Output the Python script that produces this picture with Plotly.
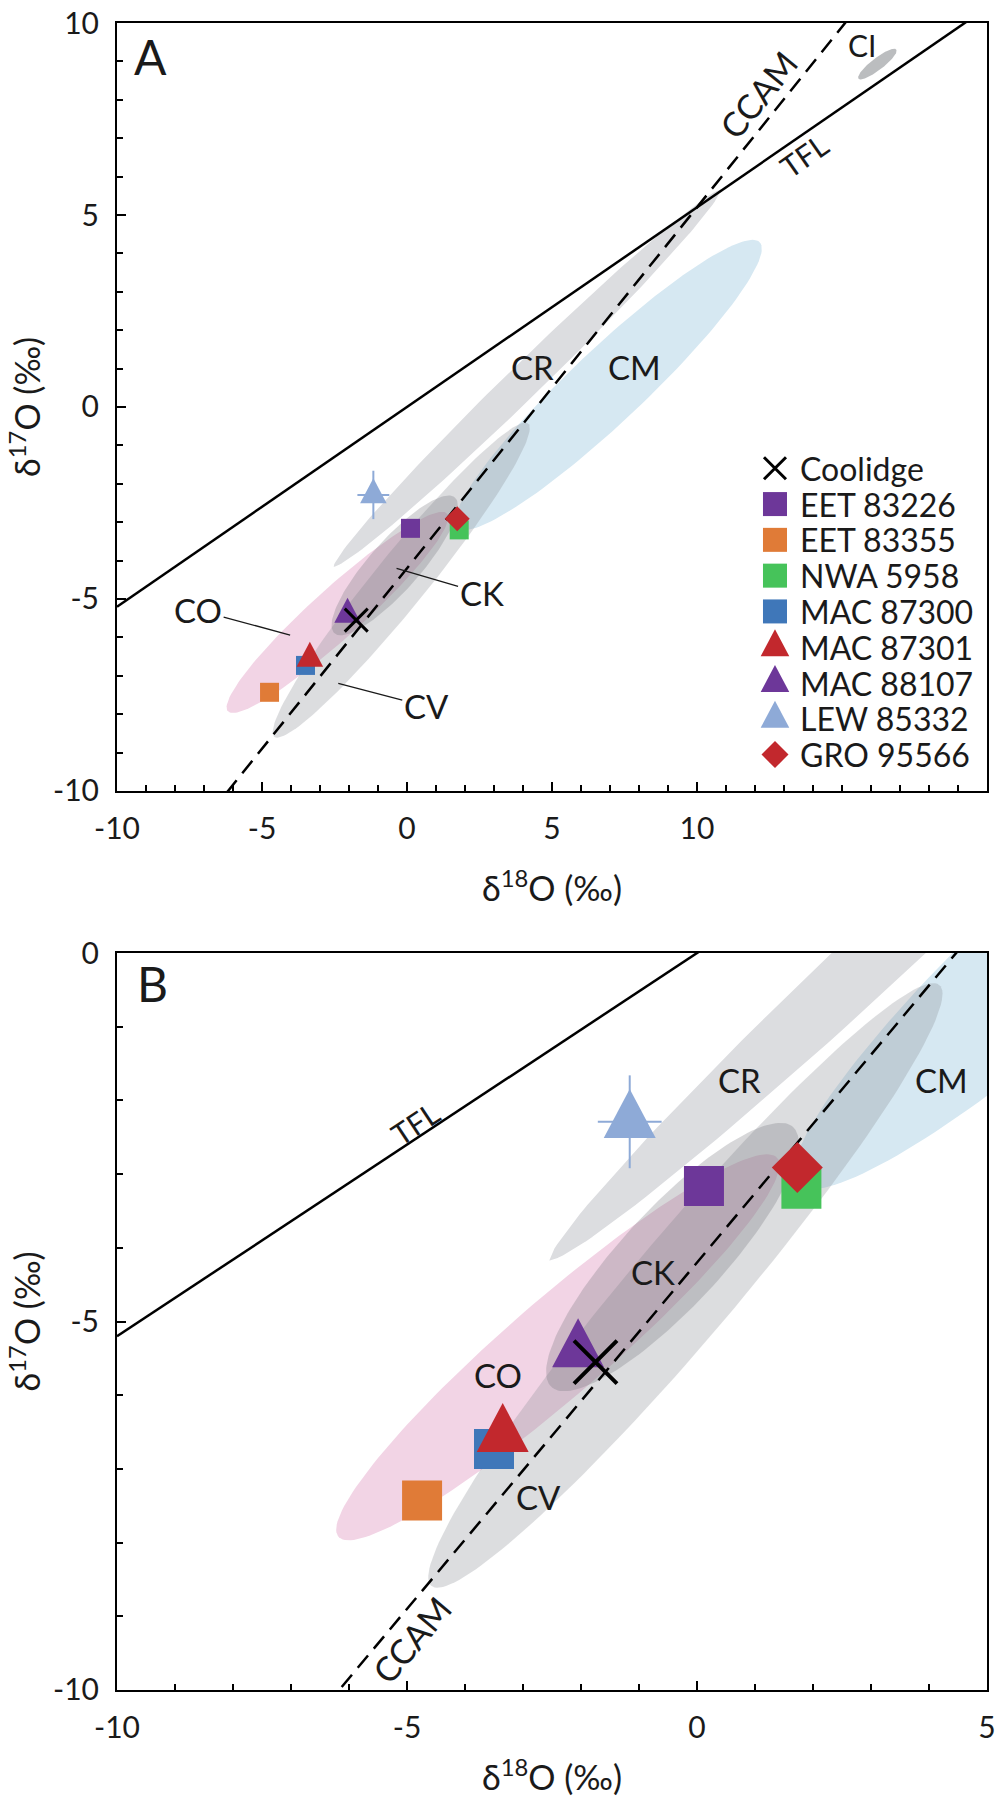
import numpy as np
import plotly.graph_objects as go

# meteorite samples, delta values in permil
samples = ['EET 83226', 'EET 83355', 'NWA 5958', 'MAC 87300',
           'MAC 87301', 'MAC 88107', 'LEW 85332', 'GRO 95566']
d18o = [0.12, -4.74, 1.80, -3.50, -3.35, -2.05, -1.16, 1.73]
d17o = [-3.16, -7.43, -3.20, -6.73, -6.55, -5.40, -2.29, -2.91]
err18 = [0, 0, 0, 0, 0, 0, 0.55, 0]
err17 = [0, 0, 0, 0, 0, 0, 0.63, 0]
kinds = ['square', 'square', 'square', 'square',
         'triangle', 'triangle', 'triangle', 'diamond']
colors = ['#6d3799', '#e07b37', '#46c35a', '#3f77b9',
          '#c2282d', '#6d3799', '#8eaad7', '#c2282d']

coolidge_18 = -1.75
coolidge_17 = -5.55

# reference lines: d17O = slope * d18O + intercept
ref_lines = ['TFL', 'CCAM']
ref_slope = [0.52, 0.94]
ref_icpt = [0.0, -4.2]

# chondrite group fields: ends of the long axis + half width
fields = ['CO', 'CM', 'CV', 'CK', 'CR', 'CI']
f_x0 = [-6.2, 1.7, -4.6, -2.55, -2.6, 15.56]
f_y0 = [-7.9, -3.1, -8.57, -5.85, -4.2, 8.56]
f_x1 = [1.4, 12.2, 4.2, 1.7, 10.9, 16.88]
f_y1 = [-2.8, 4.25, -0.45, -2.4, 5.7, 9.3]
f_hw = [0.72, 1.07, 0.8, 0.75, 0.55, 0.17]

# axis ticks
xticks_a = [-10, -5, 0, 5, 10]
yticks_a = [-10, -5, 0, 5, 10]
xticks_b = [-10, -5, 0, 5]
yticks_b = [-10, -5, 0]

FONT = "Lato, 'Noto Sans', sans-serif"
INK = '#1a1a1a'

field_fill = {'CO': '#f2d4e5', 'CM': '#d6e8f2', 'CV': 'rgba(140,143,148,0.30)',
              'CK': 'rgba(110,112,118,0.28)', 'CR': '#dcdde0', 'CI': '#bbbdbf'}


def ellipse(x0, y0, x1, y1, hw, n=160):
    cx, cy = (x0 + x1) / 2, (y0 + y1) / 2
    ux, uy = (x1 - x0) / 2, (y1 - y0) / 2
    L = np.hypot(ux, uy)
    vx, vy = -uy / L * hw, ux / L * hw
    t = np.linspace(0, 2 * np.pi, n)
    return cx + ux * np.cos(t) + vx * np.sin(t), cy + uy * np.cos(t) + vy * np.sin(t)


def glyph(kind, size):
    h = size / 2
    if kind == 'square':
        return f'M{-h},{-h}L{h},{-h}L{h},{h}L{-h},{h}Z'
    if kind == 'diamond':
        return f'M0,{-h}L{h},0L0,{h}L{-h},0Z'
    if kind == 'triangle':
        w = size * 0.53
        return f'M{-w},{-size / 3}L{w},{-size / 3}L0,{2 * size / 3}Z'
    return f'M{-h},{-h}L{h},{h}M{-h},{h}L{h},{-h}'


def mark(kind, x, y, size, color, xr, yr, lw=3):
    d = dict(type='path', path=glyph(kind, size), xref=xr, yref=yr,
             xsizemode='pixel', ysizemode='pixel', xanchor=x, yanchor=y,
             layer='above')
    if kind == 'cross':
        d.update(fillcolor='rgba(0,0,0,0)', line=dict(color='black', width=lw))
    else:
        d.update(fillcolor=color, line=dict(width=0))
    return d


fig = go.Figure()
shapes = []
annotations = []

panels = [
    dict(xa='x', ya='y', xr=[-10, 20], sq=19, tri=25, dia=25, cr=23, crw=3, gap=4),
    dict(xa='x2', ya='y2', xr=[-10, 5], sq=40, tri=49, dia=51, cr=43, crw=4, gap=7),
]

for p in panels:
    for i, f in enumerate(fields):
        ex, ey = ellipse(f_x0[i], f_y0[i], f_x1[i], f_y1[i], f_hw[i])
        fig.add_trace(go.Scatter(
            x=ex, y=ey, xaxis=p['xa'], yaxis=p['ya'], mode='lines', fill='toself',
            fillcolor=field_fill[f],
            line=dict(color='white' if f == 'CR' else 'rgba(0,0,0,0)',
                      width=p['gap'] if f == 'CR' else 0),
            hoverinfo='skip', showlegend=False))

    xs = np.array(p['xr'], dtype=float)
    for j, name in enumerate(ref_lines):
        fig.add_trace(go.Scatter(
            x=xs, y=ref_slope[j] * xs + ref_icpt[j], xaxis=p['xa'], yaxis=p['ya'],
            mode='lines', line=dict(color='black', width=2.5,
                                    dash='solid' if name == 'TFL' else '16px,9px'),
            hoverinfo='skip', showlegend=False))

    # error bars (LEW 85332)
    fig.add_trace(go.Scatter(
        x=d18o, y=d17o, xaxis=p['xa'], yaxis=p['ya'], mode='markers',
        marker=dict(size=1, opacity=0),
        error_x=dict(type='data', array=err18, color='#8eaad7', thickness=2, width=0),
        error_y=dict(type='data', array=err17, color='#8eaad7', thickness=2, width=0),
        text=samples, hoverinfo='text+x+y', showlegend=False))

    size_of = {'square': p['sq'], 'triangle': p['tri'], 'diamond': p['dia']}
    for i in range(len(samples)):
        shapes.append(mark(kinds[i], d18o[i], d17o[i], size_of[kinds[i]], colors[i],
                           p['xa'], p['ya']))
    shapes.append(mark('cross', coolidge_18, coolidge_17, p['cr'], 'black',
                       p['xa'], p['ya'], lw=p['crw']))


def label(text, x, y, xr, yr, size=33, angle=0, **kw):
    d = dict(text=text, x=x, y=y, xref=xr, yref=yr, showarrow=False,
             xanchor='center', yanchor='middle',
             textangle=angle, font=dict(family=FONT, size=size, color=INK))
    d.update(kw)
    annotations.append(d)


# panel A labels
label('A', 0.038, 0.956, 'x domain', 'y domain', size=48)
label('CCAM', 12.1, 8.15, 'x', 'y', size=34, angle=-51)
label('TFL', 13.7, 6.55, 'x', 'y', size=30, angle=-35)
label('CI', 15.68, 9.43, 'x', 'y', size=30)
label('CR', 4.34, 1.04, 'x', 'y')
label('CM', 7.86, 1.04, 'x', 'y')
arrow = dict(showarrow=True, arrowhead=0, arrowwidth=1.3, arrowcolor=INK, standoff=0)
label('CO', -4.03, -5.94, 'x', 'y', ax=-92, ay=-25, **arrow)
label('CK', -0.36, -4.2, 'x', 'y', ax=85, ay=25, **arrow)
label('CV', -2.37, -7.2, 'x', 'y', ax=88, ay=23, **arrow)

# panel B labels
label('B', 0.041, 0.959, 'x2 domain', 'y2 domain', size=48)
label('TFL', -4.86, -2.31, 'x2', 'y2', size=30, angle=-33.5)
label('CCAM', -4.92, -9.32, 'x2', 'y2', size=34, angle=-50)
label('CR', 0.74, -1.72, 'x2', 'y2')
label('CM', 4.22, -1.72, 'x2', 'y2')
label('CK', -0.76, -4.33, 'x2', 'y2')
label('CO', -3.43, -5.73, 'x2', 'y2')
label('CV', -2.74, -7.38, 'x2', 'y2')

# axis titles
x_title = 'δ<sup>18</sup>O (‰)'
y_title = 'δ<sup>17</sup>O (‰)'
label(x_title, 0.5, 0.4823, 'paper', 'paper', size=34)
label(x_title, 0.5, -0.051, 'paper', 'paper', size=34)
label(y_title, -0.1057, 0.7697, 'paper', 'paper', size=34, angle=-90)
label(y_title, -0.1057, 0.2211, 'paper', 'paper', size=34, angle=-90)

# legend inside panel A
leg_names = ['Coolidge'] + samples
leg_kinds = ['cross'] + kinds
leg_colors = ['black'] + colors
leg_size = {'cross': 22, 'square': 24, 'triangle': 27, 'diamond': 27}
for k in range(len(leg_names)):
    yy = 0.4202 - k * 0.0466
    shapes.append(mark(leg_kinds[k], 0.7563, yy, leg_size[leg_kinds[k]], leg_colors[k],
                       'x domain', 'y domain', lw=3))
    label(leg_names[k], 0.7828, yy, 'x domain', 'y domain', size=32, xanchor='left')

tickfont = dict(family=FONT, size=30, color=INK)
common = dict(showline=True, linecolor='black', linewidth=2, mirror=True,
              showgrid=False, zeroline=False, ticks='inside', ticklen=9,
              tickwidth=1.5, tickcolor='black', tickfont=tickfont,
              ticklabelstandoff=10, ticklabeloverflow='allow', automargin=False,
              minor=dict(dtick=1, tick0=0, ticks='inside', ticklen=6,
                         tickwidth=1.5, tickcolor='black', showgrid=False))


def ticktext(vals):
    return [str(v) for v in vals]  # plain hyphen minus, as in the figure


# the page body adds 8px around the plot, so the figure is 8px smaller
fig.update_layout(
    width=995, height=1792,
    margin=dict(l=109, r=16, t=15, b=110, autoexpand=False),
    paper_bgcolor='white', plot_bgcolor='white',
    font=dict(family=FONT, color=INK),
    showlegend=False,
    xaxis=dict(domain=[0, 1], anchor='y', range=[-10, 20],
               tickvals=xticks_a, ticktext=ticktext(xticks_a), **common),
    yaxis=dict(domain=[0.5393, 1], anchor='x', range=[-10, 10],
               tickvals=yticks_a, ticktext=ticktext(yticks_a), **common),
    xaxis2=dict(domain=[0, 1], anchor='y2', range=[-10, 5],
                tickvals=xticks_b, ticktext=ticktext(xticks_b), **common),
    yaxis2=dict(domain=[0, 0.4421], anchor='x2', range=[-10, 0],
                tickvals=yticks_b, ticktext=ticktext(yticks_b), **common),
    shapes=shapes,
    annotations=annotations,
)

fig.write_html("out.html")
